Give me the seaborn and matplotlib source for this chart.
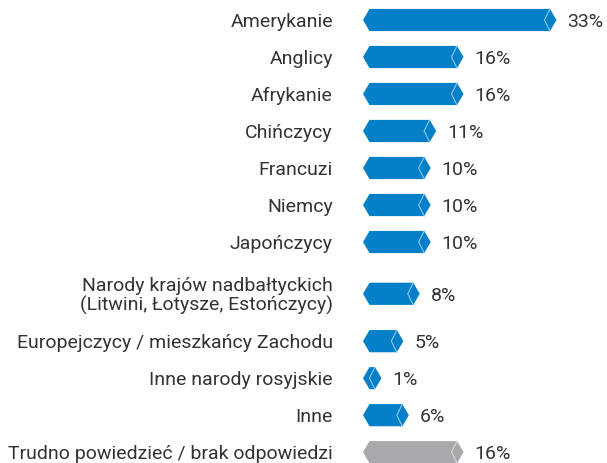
import numpy as np
import pandas as pd
import seaborn as sns
import matplotlib
matplotlib.use("Agg")
import matplotlib.pyplot as plt
from matplotlib.patches import Polygon

categories = [
    "Amerykanie", "Anglicy", "Afrykanie", "Chińczycy", "Francuzi", "Niemcy",
    "Japończycy", "Narody krajów nadbałtyckich\n(Litwini, Łotysze, Estończycy)",
    "Europejczycy / mieszkańcy Zachodu", "Inne narody rosyjskie", "Inne",
    "Trudno powiedzieć / brak odpowiedzi",
]
values = [33, 16, 16, 11, 10, 10, 10, 8, 5, 1, 6, 16]
kinds = ["main"] * 11 + ["none"]

# row layout (extra room for the two-line label)
row_pos = [i + (0.40 if i == 7 else (0.68 if i > 7 else 0.0)) for i in range(len(values))]

BLUE = "#0580C8"
GREY = "#A7A9AC"
LIGHT = {"main": "#8CC8EC", "none": "#D6D7D9"}
TEXT = "#333333"

sns.set_theme(style="white")
plt.rcParams["font.family"] = ["Roboto", "DejaVu Sans"]

df = pd.DataFrame({"value": values, "pos": row_pos, "kind": kinds})

fig = plt.figure(figsize=(6.07, 4.63), dpi=100)
W, H = 607, 463
ax_left = 363
ax = fig.add_axes([ax_left / W, 0, (W - ax_left) / W, 1])

sns.barplot(data=df, x="value", y="pos", hue="kind", orient="h", native_scale=True,
            palette={"main": BLUE, "none": GREY}, width=0.6, legend=False,
            dodge=False, ax=ax, errorbar=None, saturation=1)

px_per_unit = 5.47
tip = 6.5 / px_per_unit
x0_px = 369.5
ax.set_xlim(-(x0_px - ax_left) / px_per_unit, (W - x0_px) / px_per_unit)
row_px = 37.0
top_px = 20.0
ax.set_ylim((H - top_px) / row_px, -top_px / row_px)

FS = 14
patches = list(ax.patches)
for p in patches:
    x0 = p.get_x()
    w = p.get_width()
    y0 = p.get_y()
    h = p.get_height()
    if w <= 0 and h <= 0:
        continue
    fc = p.get_facecolor()
    x1 = x0 + w
    yc = y0 + h / 2
    poly = Polygon([(x0 - tip, yc), (x0, y0), (x1, y0), (x1 + tip, yc),
                    (x1, y0 + h), (x0, y0 + h)], closed=True, facecolor=fc,
                   edgecolor="none", clip_on=False, zorder=3)
    ax.add_patch(poly)
    kind = "none" if np.allclose(fc[:3], matplotlib.colors.to_rgb(GREY), atol=0.02) else "main"
    ax.plot([x1, x1 - tip * 0.85, x1], [y0, yc, y0 + h], color=LIGHT[kind], lw=0.8,
            zorder=4, clip_on=False, solid_joinstyle="miter")
    p.set_visible(False)
    ax.annotate(f"{int(round(w))}%", xy=(x1 + tip, yc), xytext=(8, 0),
                textcoords="offset points", va="center_baseline", ha="left",
                fontsize=FS, color=TEXT)

ax.set_yticks(row_pos)
ax.set_yticklabels(categories, fontsize=FS, color=TEXT)
for t in ax.get_yticklabels():
    t.set_linespacing(1.05)
ax.tick_params(axis="y", length=0, pad=(ax_left - 333) * 72 / 100)
ax.set_xticks([])
ax.set_xlabel("")
ax.set_ylabel("")
for s in ax.spines.values():
    s.set_visible(False)

fig.savefig("out.png", dpi=100)
